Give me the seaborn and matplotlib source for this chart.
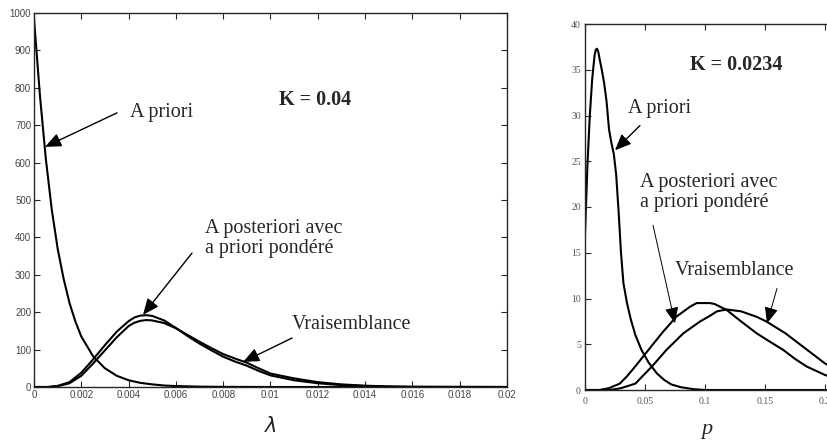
import pandas as pd
import matplotlib.pyplot as plt
import seaborn as sns

# left panel : lambda
lam_prior = [0, 0.00025, 0.0005, 0.00075, 0.001, 0.00125, 0.0015, 0.00175, 0.002, 0.0025,
             0.003, 0.0035, 0.004, 0.0045, 0.005, 0.0055, 0.006, 0.007, 0.008, 0.01, 0.02]
prior_lam = [985, 780, 610, 475, 370, 290, 225, 175, 135, 82,
             50, 30, 18, 11, 7, 4, 2.5, 1, 0.4, 0, 0]

lam_grid = [0, 0.0006, 0.001, 0.0015, 0.002, 0.0025, 0.003, 0.0035, 0.004, 0.00425, 0.0045,
            0.00475, 0.005, 0.0055, 0.006, 0.0065, 0.007, 0.0075, 0.008, 0.0085, 0.009, 0.0095,
            0.01, 0.011, 0.012, 0.013, 0.014, 0.015, 0.016, 0.02]
post_lam = [0, 0, 3, 13, 38, 74, 112, 148, 176, 186, 191, 192, 190, 178, 158, 136, 116, 98, 81,
            68, 57, 43, 31, 18, 10, 5, 2.5, 1, 0.3, 0]
lik_lam = [0, 0, 2, 10, 30, 63, 98, 133, 163, 172, 177, 179, 178, 171, 157, 139, 121, 104, 88,
           76, 65, 50, 36, 23, 13, 7, 3.5, 1.5, 0.5, 0]

# right panel : p
p_prior = [0, 0.002, 0.004, 0.006, 0.008, 0.009, 0.010, 0.011, 0.012, 0.014, 0.016, 0.018,
           0.020, 0.022, 0.024, 0.026, 0.028, 0.030, 0.032, 0.035, 0.038, 0.042, 0.047, 0.053,
           0.060, 0.066, 0.072, 0.080, 0.090, 0.100, 0.21]
prior_p = [17, 24.5, 30, 34, 36.6, 37.2, 37.3, 37.0, 36.3, 35, 33.5, 31.5, 28.5, 27, 25.8,
           23.5, 19.5, 15, 11.7, 9.5, 7.8, 6, 4.4, 3, 1.8, 1.1, 0.6, 0.3, 0.1, 0, 0]

p_post = [0, 0.012, 0.02, 0.029, 0.035, 0.042, 0.053, 0.064, 0.076, 0.0875, 0.093, 0.104,
          0.108, 0.118, 0.13, 0.143, 0.155, 0.165, 0.175, 0.185, 0.2, 0.21]
post_p = [0, 0, 0.2, 0.7, 1.5, 2.6, 4.4, 6.2, 8.0, 9.1, 9.5, 9.5, 9.4, 8.75, 7.5, 6.2, 5.2,
          4.4, 3.4, 2.55, 1.64, 1.2]

p_lik = [0, 0.021, 0.03, 0.042, 0.056, 0.068, 0.082, 0.096, 0.104, 0.11, 0.118, 0.13, 0.143,
         0.151, 0.167, 0.185, 0.2, 0.21]
lik_p = [0, 0, 0.2, 0.7, 2.6, 4.4, 6.2, 7.5, 8.1, 8.6, 8.8, 8.6, 8.0, 7.5, 6.2, 4.4, 2.9, 2.2]

lam_ticks = [0, 0.002, 0.004, 0.006, 0.008, 0.01, 0.012, 0.014, 0.016, 0.018, 0.02]
lam_labels = ['0', '0.002', '0.004', '0.006', '0.008', '0.01', '0.012', '0.014', '0.016', '0.018', '0.02']
p_ticks = [0, 0.05, 0.1, 0.15, 0.2]
p_labels = ['0', '0.05', '0.1', '0.15', '0.2']

sns.set_style('ticks')
serif = 'Liberation Serif'
sans = 'Liberation Sans'

fig = plt.figure(figsize=(8.28, 4.41), dpi=100)
ax1 = fig.add_axes([34 / 828, 1 - 387 / 441, 473 / 828, 374 / 441])
# right panel is cut by the figure edge, as in the original
ax2 = fig.add_axes([585 / 828, 1 - 390 / 441, 252 / 828, 366 / 441])

lw = 1.5
sns.lineplot(x=lam_prior, y=prior_lam, ax=ax1, color='black', linewidth=lw)
sns.lineplot(x=lam_grid, y=post_lam, ax=ax1, color='black', linewidth=lw)
sns.lineplot(x=lam_grid, y=lik_lam, ax=ax1, color='black', linewidth=lw)

sns.lineplot(x=p_prior, y=prior_p, ax=ax2, color='black', linewidth=lw)
sns.lineplot(x=p_post, y=post_p, ax=ax2, color='black', linewidth=lw)
sns.lineplot(x=p_lik, y=lik_p, ax=ax2, color='black', linewidth=lw)

# left axes
ax1.set_xlim(0, 0.02)
ax1.set_ylim(0, 1000)
ax1.set_xticks(lam_ticks)
ax1.set_xticklabels(lam_labels)
ax1.set_yticks(range(0, 1001, 100))
ax1.tick_params(direction='in', top=True, right=True, length=4, width=0.8,
                labelsize=7, labelcolor='#444444', pad=2)
for lab in ax1.get_xticklabels() + ax1.get_yticklabels():
    lab.set_family(sans)
for s in ax1.spines.values():
    s.set_linewidth(1.0)
ax1.set_xlabel(r'$\lambda$', fontsize=15, labelpad=12)

# right axes
ax2.set_xlim(0, 0.21)
ax2.set_ylim(0, 40)
ax2.set_xticks(p_ticks)
ax2.set_xticklabels(p_labels)
ax2.set_yticks(range(0, 41, 5))
ax2.tick_params(direction='in', top=True, right=True, length=4, width=0.8,
                labelsize=7, labelcolor='#555555', pad=3)
ax2.tick_params(axis='x', pad=5)
for lab in ax2.get_xticklabels() + ax2.get_yticklabels():
    lab.set_family(serif)
for s in ax2.spines.values():
    s.set_linewidth(1.0)
ax2.set_xlabel('p', fontsize=16, family=serif, style='italic')
ax2.xaxis.set_label_coords(122 / 252, -30 / 366)
ax1.set_ylabel('')
ax2.set_ylabel('')

arrow = dict(arrowstyle='-|>,head_length=0.7,head_width=0.3', color='black', lw=1.0,
             shrinkA=0, shrinkB=0, mutation_scale=14)
thin = dict(arrow, lw=0.7)
fs = 14.5

# left annotations
ax1.text(0.01188, 767, 'K = 0.04', fontsize=fs, fontweight='bold', family=serif,
         ha='center', va='center')
ax1.text(0.00406, 733, 'A priori', fontsize=fs, family=serif, va='center', ha='left')
ax1.annotate('', xy=(0.000465, 642), xytext=(0.00351, 733), arrowprops=arrow)
ax1.text(0.00723, 397, 'A posteriori avec\na priori pondéré', fontsize=fs, family=serif,
         va='center', ha='left', linespacing=1.05)
ax1.annotate('', xy=(0.00461, 193), xytext=(0.00668, 358), arrowprops=arrow)
ax1.text(0.01091, 166, 'Vraisemblance', fontsize=fs, family=serif, va='center', ha='left')
ax1.annotate('', xy=(0.00884, 67), xytext=(0.01091, 131), arrowprops=arrow)

# right annotations
ax2.text(0.1258, 35.5, 'K = 0.0234', fontsize=fs, fontweight='bold', family=serif,
         ha='center', va='center')
ax2.text(0.0358, 30.8, 'A priori', fontsize=fs, family=serif, va='center', ha='left')
ax2.annotate('', xy=(0.025, 26.2), xytext=(0.0458, 28.9), arrowprops=arrow)
ax2.text(0.0458, 21.6, 'A posteriori avec\na priori pondéré', fontsize=fs, family=serif,
         va='center', ha='left', linespacing=1.05)
ax2.annotate('', xy=(0.075, 7.3), xytext=(0.0567, 18.0), arrowprops=thin)
ax2.text(0.075, 13.1, 'Vraisemblance', fontsize=fs, family=serif, va='center', ha='left')
ax2.annotate('', xy=(0.1517, 7.3), xytext=(0.16, 11.1), arrowprops=thin)

plt.savefig('out.png', dpi=100)
